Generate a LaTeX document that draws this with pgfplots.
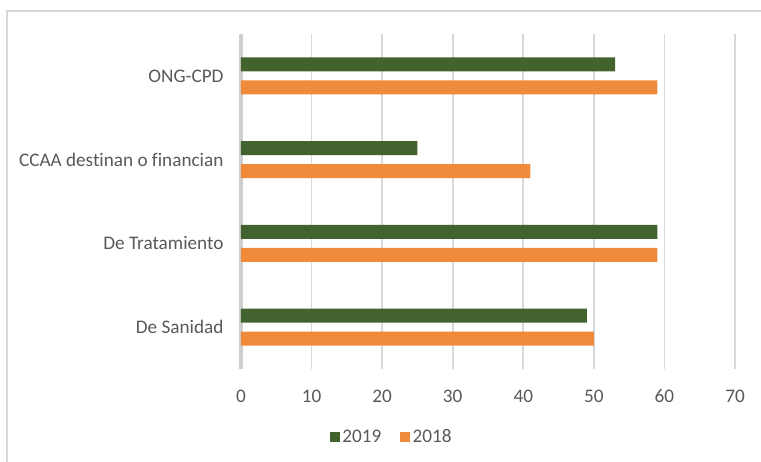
\documentclass[border=0pt]{standalone}
\usepackage{pgfplots}
\pgfplotsset{compat=1.18}
\usepackage{fontspec}
\setmainfont{Carlito}[Ligatures=NoCommon]
\definecolor{green19}{HTML}{43632E}
\definecolor{orange18}{HTML}{F18B3C}
\definecolor{gridgray}{HTML}{D9D9D9}
\definecolor{axisgray}{HTML}{CFCFCF}
\definecolor{textgray}{HTML}{595959}
\begin{document}
\begin{tikzpicture}
\useasboundingbox (0,0) rectangle (570.75pt,345.75pt);
\draw[gridgray, line width=1.5pt] (5.25pt,337.5pt) rectangle (590pt,-20pt);
\begin{axis}[
    at={(180.75pt,69pt)}, anchor=south west,
    scale only axis,
    width=370.5pt, height=251.25pt,
    xbar, bar width=10.5pt,
    xmin=0, xmax=70, ymin=-0.5, ymax=3.5,
    xtick={0,10,...,70},
    ytick={0,1,2,3},
    yticklabels={De Sanidad, De Tratamiento, CCAA destinan o financian, ONG-CPD},
    xmajorgrids,
    grid style={gridgray, line width=1.2pt},
    extra x ticks={0}, extra x tick labels={},
    extra x tick style={grid style={axisgray, line width=2.6pt}},
    axis line style={draw=none},
    major tick length=0pt,
    tick style={draw=none},
    /pgf/number format/assume math mode=true,
    ticklabel style={font=\fontsize{14.4}{16}\selectfont, text=textgray},
    xticklabel style={yshift=-12pt},
    yticklabel style={xshift=-9.6pt},
    legend style={at={(0.3057,-0.203)}, anchor=center, draw=none, fill=none,
        font=\fontsize{14.4}{16}\selectfont, text=textgray,
        /tikz/every even column/.append style={column sep=12pt}},
    legend columns=2,
    legend image code/.code={\fill[#1] (0pt,-3.75pt) rectangle (7.5pt,3.75pt);},
]
\addplot[fill=green19, draw=none, bar shift=8.6pt] coordinates {
    (49,0) (59,1) (25,2) (53,3)
};
\addlegendentry{2019}
\addplot[fill=orange18, draw=none, bar shift=-8.6pt] coordinates {
    (50,0) (59,1) (41,2) (59,3)
};
\addlegendentry{2018}
\end{axis}
\end{tikzpicture}
\end{document}
